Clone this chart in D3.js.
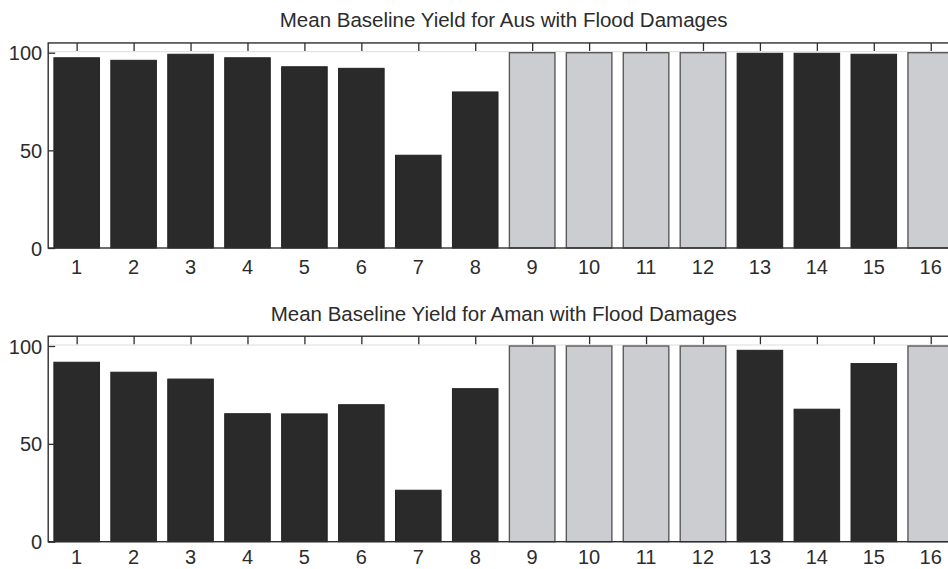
<!DOCTYPE html>
<html>
<head>
<meta charset="utf-8">
<script src="https://cdn.jsdelivr.net/npm/d3@7"></script>
<style>
  html, body { margin: 0; padding: 0; background: #fff; overflow: hidden; }
  svg { display: block; font-family: "Liberation Sans", Arial, sans-serif; }
</style>
</head>
<body>
<svg id="chart" width="948" height="569"></svg>
<script>
// Districts 1..16
const districts = d3.range(1, 17);

// Mean baseline yield (%) with flood damages
const ausYield  = [97.4, 96.1, 99.2, 97.4, 92.8, 92.0, 47.5, 79.9, 100, 100, 100, 100, 99.7, 99.7, 99.2, 100];
const amanYield = [91.7, 86.6, 83.1, 65.4, 65.3, 70.0, 26.3, 78.2, 100, 100, 100, 100, 97.8, 67.7, 91.0, 100];

// Districts shown as light bars (no flood damage)
const undamaged = [9, 10, 11, 12, 16];

const yTicks = [0, 50, 100];

const panels = [
  { title: "Mean Baseline Yield for Aus with Flood Damages",  values: ausYield,  y0: 248.0, y100: 52.7, titleY: 26.5 },
  { title: "Mean Baseline Yield for Aman with Flood Damages", values: amanYield, y0: 541.7, y100: 346.0, titleY: 320.5 }
];

const H = 569;
const svg = d3.select("#chart");

// the axes box runs past the right edge of the page
const x = d3.scaleLinear().domain([0.5, 16.5]).range([48.2, 959.2]);
const step = x(2) - x(1);
const barW = step * 0.8;

const axisColor = "#2e2e2e";
const textColor = "#2c2c2c";
const darkFill = "#2b2a2b";
const lightFill = "#cccdd0";

panels.forEach(p => {
  const y = d3.scaleLinear().domain([0, 100]).range([p.y0, p.y100]);
  const yTop = y(105);
  const g = svg.append("g");

  // faint reference line at 100
  g.append("line")
    .attr("x1", x(0.5)).attr("x2", x(16.5))
    .attr("y1", y(100) - 1).attr("y2", y(100) - 1)
    .attr("stroke", "#dcdcdc").attr("stroke-width", 1);

  // bars
  g.selectAll("rect.bar")
    .data(districts.map((d, i) => ({ d, v: p.values[i], light: undamaged.includes(d) })))
    .join("rect")
    .attr("class", "bar")
    .attr("x", d => x(d.d) - barW / 2)
    .attr("width", barW)
    .attr("y", d => y(d.v))
    .attr("height", d => y(0) - y(d.v))
    .attr("fill", d => d.light ? lightFill : darkFill)
    .attr("stroke", d => d.light ? "#5a5a5a" : "#222")
    .attr("stroke-width", d => d.light ? 1.4 : 1);

  // ticks pointing inward along the top edge
  const topAxis = d3.axisBottom(x).tickValues(districts).tickSize(8).tickFormat("");
  g.append("g").attr("transform", `translate(0,${yTop})`).call(topAxis)
    .call(a => a.select(".domain").remove())
    .call(a => a.selectAll("line").attr("stroke", axisColor).attr("stroke-width", 1.3));

  // box
  g.append("rect")
    .attr("x", x(0.5)).attr("y", yTop)
    .attr("width", x(16.5) - x(0.5)).attr("height", y(0) - yTop)
    .attr("fill", "none").attr("stroke", axisColor).attr("stroke-width", 1.4);

  // y axis: inward ticks, labels on the left
  const yAxis = d3.axisRight(y).tickValues(yTicks).tickSize(7).tickFormat("");
  g.append("g").attr("transform", `translate(${x(0.5)},0)`).call(yAxis)
    .call(a => a.select(".domain").remove())
    .call(a => a.selectAll("line").attr("stroke", axisColor).attr("stroke-width", 1.3));

  g.selectAll("text.ylab")
    .data(yTicks)
    .join("text")
    .attr("class", "ylab")
    .attr("x", x(0.5) - 6)
    .attr("y", d => y(d) + 7.5)
    .attr("text-anchor", "end")
    .attr("font-size", 20)
    .attr("fill", textColor)
    .text(d => d);

  // x labels (kept inside the page at the bottom)
  g.selectAll("text.xlab")
    .data(districts)
    .join("text")
    .attr("class", "xlab")
    .attr("x", d => x(d))
    .attr("y", Math.min(y(0) + 26, H - 5))
    .attr("text-anchor", "middle")
    .attr("font-size", 20)
    .attr("fill", textColor)
    .text(d => d);

  // title
  g.append("text")
    .attr("x", (x(0.5) + x(16.5)) / 2)
    .attr("y", p.titleY)
    .attr("text-anchor", "middle")
    .attr("font-size", 20.5)
    .attr("fill", textColor)
    .text(p.title);
});
</script>
</body>
</html>
